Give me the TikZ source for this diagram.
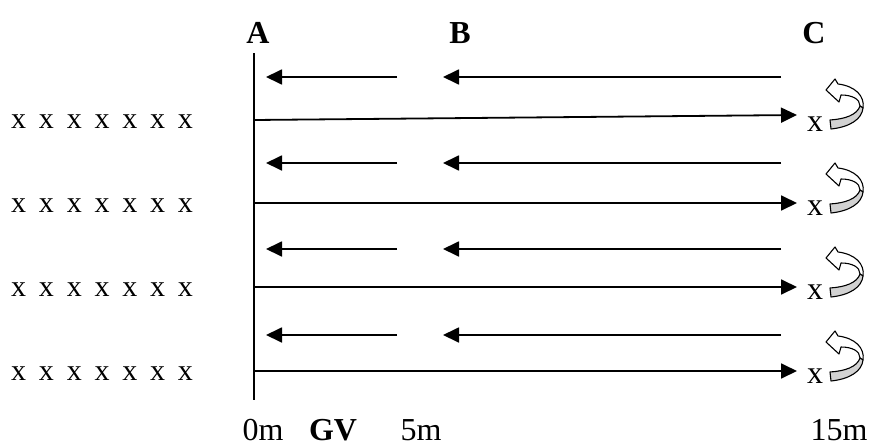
\documentclass[tikz,border=0pt]{standalone}
\usepackage{fontspec}
\setmainfont{Liberation Serif}
\usetikzlibrary{arrows.meta}
\newcommand{\xgap}{\hspace{12.8pt}}
\begin{document}
\begin{tikzpicture}[x=1pt,y=-1pt,
  ln/.style={line width=1.8pt},
  arr/.style={line width=1.8pt,-{Triangle[length=16pt,width=15pt]}},
  lbl/.style={font={\fontsize{32}{36}\selectfont}, anchor=base, inner sep=0pt},
  hd/.style={font={\fontsize{32}{36}\selectfont\bfseries}, anchor=base, inner sep=0pt},
  xrow/.style={font={\fontsize{30}{36}\selectfont}, anchor=base west, inner sep=0pt},
  curl/.pic={
    \draw[line width=1.1pt, fill=white, line join=round]
      (-19,-29) -- (-10,-40) -- (-7,-35)
      .. controls (10,-33) and (20,-23) .. (18,-11)
      -- (15,-13)
      .. controls (15,-20) and (7,-24) .. (-4,-24)
      -- (-6,-17) -- cycle;
    \draw[line width=1.1pt, fill=gray!35, line join=round]
      (-15,1) .. controls (0,0) and (12,-4) .. (15,-13)
      -- (18,-11)
      .. controls (17,0) and (5,8) .. (-14,10) -- cycle;
  }]
\useasboundingbox (0,0) rectangle (875,447);

% labels
\node[hd] (A) at (258,43) {A};
\node[hd] (B) at (460,43) {B};
\node[hd] (C) at (814,43) {C};
\node[lbl] (m0) at (263,440) {0m};
\node[hd] (GV) at (333,440) {GV};
\node[lbl] (m5) at (421,440) {5m};
\node[lbl] (m15) at (839,440) {15m};

% vertical line
\coordinate (vt) at (254,53);
\coordinate (vb) at (254,400);
\draw[ln] (vt) -- (vb);

\foreach \r in {0,1,2,3}{
  \pgfmathsetmacro{\yl}{77+86*\r}
  \pgfmathsetmacro{\yr}{119+84*\r}
  \node[xrow] (row\r) at (11,\yr+9) {x\xgap x\xgap x\xgap x\xgap x\xgap x\xgap x};
  \coordinate (s1\r) at (397,\yl);
  \coordinate (t1\r) at (266,\yl);
  \coordinate (s2\r) at (781,\yl);
  \coordinate (t2\r) at (443,\yl);
  \draw[arr] (s1\r) -- (t1\r);
  \draw[arr] (s2\r) -- (t2\r);
  \node[lbl] (x\r) at (815,\yr+12) {x};
  \pic at (845,\yr) {curl};
}
% right arrows
\coordinate (r0s) at (254,120);
\coordinate (r0e) at (797,115);
\draw[arr] (r0s) -- (r0e);
\foreach \r in {1,2,3}{
  \pgfmathsetmacro{\yr}{119+84*\r}
  \coordinate (rs\r) at (254,\yr);
  \coordinate (re\r) at (797,\yr);
  \draw[arr] (rs\r) -- (re\r);
}
\end{tikzpicture}
\end{document}
